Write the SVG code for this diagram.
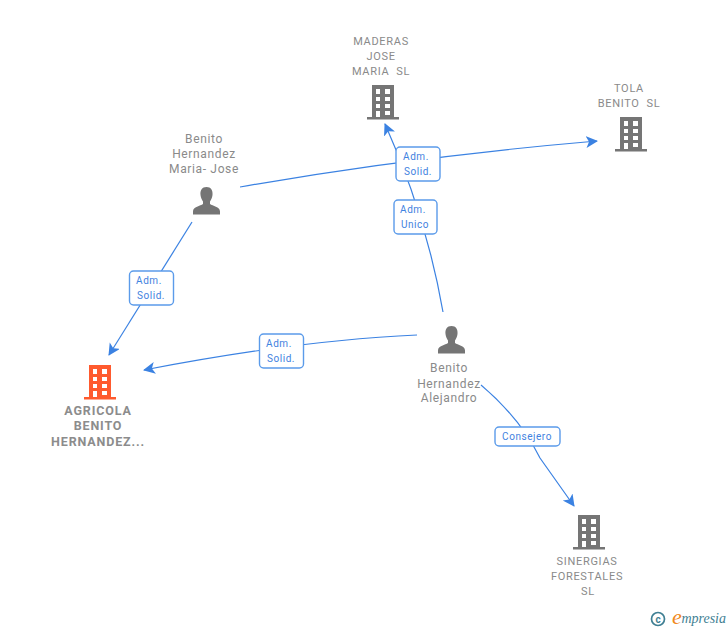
<svg xmlns="http://www.w3.org/2000/svg" xmlns:xlink="http://www.w3.org/1999/xlink" width="728" height="630" viewBox="0 0 728 630">
<style>
text{font-family:"Roboto","Liberation Sans",Arial,sans-serif;text-anchor:middle;white-space:pre}
.co{font-size:11px;fill:#8a8a8a;letter-spacing:.7px}
.pe{font-size:12px;fill:#8a8a8a;letter-spacing:.65px}
.main{font-size:12.500px;font-weight:700;fill:#8c8c8c;letter-spacing:.85px}
.lb{font-size:10px;fill:#3f82e0;letter-spacing:.55px}
.box{fill:#fff;stroke:#5b9bea;stroke-width:1.4}
.ln{fill:none;stroke:#3b82e2;stroke-width:1.2;marker-end:url(#ah)}
</style>
<defs>
<marker id="ah" markerUnits="userSpaceOnUse" markerWidth="13" markerHeight="13" refX="11" refY="6" orient="auto"><path d="M0,0 L12,6 L0,12 L3,6 Z" fill="#3b82e2"/></marker>
<symbol id="b" viewBox="0 0 32 35" width="32" height="35" overflow="visible">
<path fill-rule="evenodd" d="M5,0H27V32H32V34.500H0V32H5ZM9,4V9H13V4ZM18,4V9H23V4ZM9,12V16H13V12ZM18,12V16H23V12ZM9,19V23H13V19ZM18,19V23H23V19ZM9,26V32H13V26ZM18,26V30H23V26Z"/>
</symbol>
<symbol id="p" viewBox="0 0 28 28" width="28" height="28" overflow="visible">
<path d="M14,0C18.500,0 20.500,3.500 20,8C19.700,11 18.500,13 17.500,14.500V17C20,19 27.500,19.500 27.500,24.500V27.500H0.500V24.500C0.500,19.500 8,19 10.500,17V14.500C9.500,13 8.300,11 8,8C7.500,3.500 9.500,0 14,0Z"/>
</symbol>
</defs>
<g id="connectors">
<path class="ln" d="M240,187 Q410,157 597,141"/>
<path class="ln" d="M443,312 Q426,215 385,124"/>
<path class="ln" d="M192,222 L109,355"/>
<path class="ln" d="M417,335 Q300,340 144,370"/>
<path class="ln" d="M481,385 Q520,418 540,458 L574,506"/>
</g>
<g id="e1"><rect class="box" x="396" y="147" width="44" height="34" rx="4"/><text class="lb" x="416" y="160">Adm.</text><text class="lb" x="418" y="175">Solid.</text></g>
<g id="e2"><rect class="box" x="394" y="200" width="43" height="34" rx="4"/><text class="lb" x="413" y="213">Adm.</text><text class="lb" x="415" y="228">Unico</text></g>
<g id="e3"><rect class="box" x="129.500" y="271" width="44" height="34" rx="4"/><text class="lb" x="149" y="284">Adm.</text><text class="lb" x="151" y="299">Solid.</text></g>
<g id="e4"><rect class="box" x="259.500" y="334" width="44" height="34" rx="4"/><text class="lb" x="279" y="347">Adm.</text><text class="lb" x="281" y="362">Solid.</text></g>
<g id="e5"><rect class="box" x="495" y="427" width="65" height="19" rx="4"/><text class="lb" x="527" y="440">Consejero</text></g>
<g id="maderas"><use xlink:href="#b" href="#b" x="367" y="85" fill="#757575"/><text class="co" x="381" y="45">MADERAS</text><text class="co" x="381" y="60">JOSE</text><text class="co" x="381" y="75">MARIA  SL</text></g>
<g id="tola"><use xlink:href="#b" href="#b" x="615" y="117" fill="#757575"/><text class="co" x="629" y="92">TOLA</text><text class="co" x="629" y="107">BENITO  SL</text></g>
<g id="mj"><use xlink:href="#p" href="#p" x="192.500" y="187" fill="#757575"/><text class="pe" x="204" y="143">Benito</text><text class="pe" x="204" y="158">Hernandez</text><text class="pe" x="204" y="173">Maria- Jose</text></g>
<g id="alejandro"><use xlink:href="#p" href="#p" x="437.500" y="326" fill="#757575"/><text class="pe" x="449" y="372">Benito</text><text class="pe" x="449" y="388">Hernandez</text><text class="pe" x="449" y="402">Alejandro</text></g>
<g id="agricola"><use xlink:href="#b" href="#b" x="84" y="365" fill="#ff5a2e"/><text class="main" x="98" y="415">AGRICOLA</text><text class="main" x="98" y="430">BENITO</text><text class="main" x="98" y="446">HERNANDEZ...</text></g>
<g id="sinergias"><use xlink:href="#b" href="#b" x="573" y="515" fill="#757575"/><text class="co" x="587" y="565">SINERGIAS</text><text class="co" x="587" y="580">FORESTALES</text><text class="co" x="588" y="595">SL</text></g>
<g id="logo"><circle cx="658" cy="619" r="6.500" fill="none" stroke="#3f7f93" stroke-width="1.700"/><text x="658" y="622.500" style="font-size:10px;font-weight:700;fill:#3f7f93">c</text><text x="677" y="624" style="font-family:'Liberation Serif',serif;font-size:22px;font-style:italic;fill:#f08a1d">e</text><text x="726" y="623" style="font-family:'Liberation Serif',serif;font-size:14px;font-style:italic;fill:#3f7f93;text-anchor:end">mpresia</text></g>
</svg>
